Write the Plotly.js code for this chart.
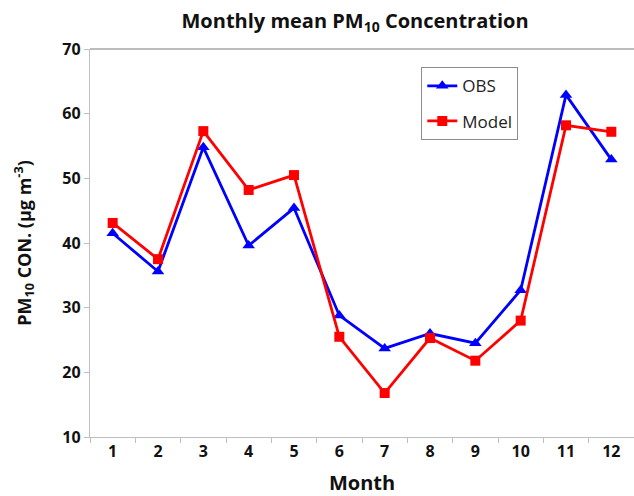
<!DOCTYPE html>
<html>
<head>
<meta charset="utf-8">
<script src="https://cdn.plot.ly/plotly-3.0.1.min.js"></script>
<style>
html,body{margin:0;padding:0;background:#fff;}
#chart{width:634px;height:496px;}
</style>
</head>
<body>
<div id="chart"></div>
<script>
var months = ['1','2','3','4','5','6','7','8','9','10','11','12'];
var obsValues = [41.5, 35.6, 54.8, 39.6, 45.4, 28.8, 23.7, 26.0, 24.5, 32.7, 62.9, 52.9];
var modelValues = [43.1, 37.5, 57.3, 48.2, 50.5, 25.5, 16.8, 25.3, 21.8, 28.0, 58.2, 57.2];
var yTicks = [10, 20, 30, 40, 50, 60, 70];

var obs = {
  x: months, y: obsValues, name: 'OBS', type: 'scatter', mode: 'lines+markers',
  legendgroup: 'a',
  line: {color: '#0000FF', width: 2.8},
  marker: {symbol: 'triangle-up', size: 11, color: '#0000FF'}
};
var model = {
  x: months, y: modelValues, name: 'Model', type: 'scatter', mode: 'lines+markers',
  legendgroup: 'b',
  line: {color: '#FF0000', width: 2.8},
  marker: {symbol: 'square', size: 10, color: '#FF0000'}
};

var layout = {
  width: 634, height: 496,
  margin: {l: 90, r: 0, t: 49, b: 59},
  paper_bgcolor: '#fff', plot_bgcolor: '#fff',
  showlegend: true,
  title: {
    text: '<b>Monthly mean PM<sub>10</sub> Concentration</b>',
    font: {family: 'Open Sans', size: 20, color: '#111'},
    x: 0.56, xanchor: 'center', y: 0.958, yanchor: 'middle'
  },
  xaxis: {
    type: 'category', range: [-0.5, 11.5],
    tickson: 'boundaries', ticks: 'outside', ticklen: 5, tickcolor: '#bfbfbf',
    showline: true, linecolor: '#bfbfbf', linewidth: 1.2, mirror: false,
    showgrid: false, zeroline: false,
    tickfont: {family: 'Open Sans', size: 16, color: '#111', weight: 'bold'},
    title: {text: '<b>Month</b>', font: {family: 'Open Sans', size: 20, color: '#111'}, standoff: 14}
  },
  yaxis: {
    range: [10, 70], tickvals: yTicks, ticktext: yTicks.map(String),
    ticks: 'outside', ticklen: 5, tickcolor: '#bfbfbf',
    showline: true, linecolor: '#bfbfbf', linewidth: 1.2,
    showgrid: false, zeroline: false,
    tickfont: {family: 'Open Sans', size: 16, color: '#111', weight: 'bold'},
    title: {text: '<b>PM<sub>10</sub> CON. (µg m<sup>-3</sup>)</b>', font: {family: 'Open Sans', size: 18, color: '#111'}, standoff: 26}
  },
  shapes: [{type: 'line', xref: 'paper', yref: 'paper', x0: 0, x1: 1, y0: 1, y1: 1, line: {color: '#a6a6a6', width: 1.5}}],
  legend: {
    x: 0.609, y: 0.953, xanchor: 'left', yanchor: 'top',
    bgcolor: '#fff', bordercolor: '#8c8c8c', borderwidth: 1,
    font: {family: 'Open Sans', size: 17, color: '#222'},
    traceorder: 'grouped', tracegroupgap: 10, itemwidth: 30
  }
};

Plotly.newPlot('chart', [obs, model], layout, {displayModeBar: false, staticPlot: true});
</script>
</body>
</html>
